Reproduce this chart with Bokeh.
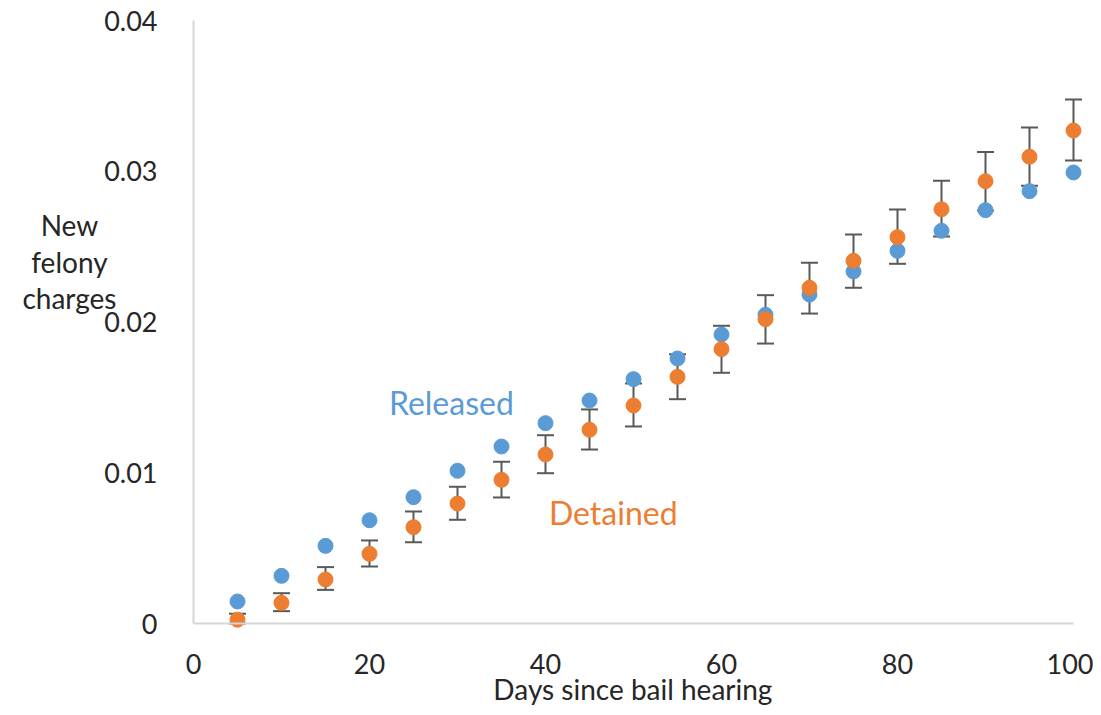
from bokeh.plotting import figure
from bokeh.models import (ColumnDataSource, Range1d, FixedTicker, CustomJSTickFormatter,
                          Whisker, TeeHead, Label)
from bokeh.embed import file_html
from bokeh.resources import INLINE

# ---- data ----
days = [5, 10, 15, 20, 25, 30, 35, 40, 45, 50, 55, 60, 65, 70, 75, 80, 85, 90, 95, 100]
released = [0.00146, 0.00316, 0.00515, 0.00685, 0.00838, 0.01013, 0.01174, 0.01329, 0.01479, 0.01621,
            0.01758, 0.01917, 0.02048, 0.02182, 0.02335, 0.02472, 0.02605, 0.02742, 0.02868, 0.02992]
detained = [0.00025, 0.00137, 0.00292, 0.00462, 0.00639, 0.00796, 0.00953, 0.01121, 0.01285, 0.01446,
            0.01636, 0.01820, 0.02019, 0.02227, 0.02406, 0.02563, 0.02748, 0.02934, 0.03096, 0.03270]
det_upper = [0.00064, 0.00201, 0.00374, 0.00551, 0.00743, 0.00907, 0.01073, 0.01249, 0.01420, 0.01592,
             0.01786, 0.01975, 0.02178, 0.02393, 0.02580, 0.02746, 0.02937, 0.03127, 0.03290, 0.03476]
det_lower = [0.00000, 0.00082, 0.00223, 0.00378, 0.00539, 0.00688, 0.00836, 0.00997, 0.01154, 0.01307,
             0.01488, 0.01663, 0.01857, 0.02056, 0.02227, 0.02386, 0.02567, 0.02740, 0.02903, 0.03071]
x_ticks = [0, 20, 40, 60, 80, 100]
y_ticks = [0, 0.01, 0.02, 0.03, 0.04]
y_title_lines = ["New", "felony", "charges"]

FONT = "Lato"
BLUE = "#5B9BD5"
ORANGE = "#ED7D31"
TXT = "#262626"

W, H = 1093, 707
# frame covers the whole canvas; axes sit at x=0 / y=0 via fixed_location
px_x = 8.8          # pixels per day
px_y = 15075.0      # pixels per unit of y
x0_px, y0_px, ytop_px = 193, 623, 20
x_range = Range1d(-x0_px / px_x, 100 + (W - (x0_px + 100 * px_x)) / px_x)
y_range = Range1d(-(H - y0_px) / px_y, 0.04 + ytop_px / px_y)

p = figure(width=W, height=H, x_range=x_range, y_range=y_range,
           output_backend="svg", toolbar_location=None, min_border=0)
p.outline_line_color = None
p.grid.visible = False
p.background_fill_color = "white"

for ax in (p.xaxis[0], p.yaxis[0]):
    ax.fixed_location = 0
    ax.axis_line_color = "#D6D6D6"
    ax.axis_line_width = 2
    ax.major_tick_line_color = None
    ax.minor_tick_line_color = None
    ax.major_label_text_font = FONT
    ax.major_label_text_font_size = "27px"
    ax.major_label_text_color = TXT

p.xaxis.bounds = (0, 100)
p.yaxis.bounds = (0, 0.04)
p.xaxis.ticker = FixedTicker(ticks=x_ticks)
p.yaxis.ticker = FixedTicker(ticks=y_ticks)
p.yaxis.formatter = CustomJSTickFormatter(code="return tick == 0 ? '0' : tick.toFixed(2);")
p.xaxis.major_label_standoff = 24
p.yaxis.major_label_standoff = 30

src = ColumnDataSource(dict(x=days, rel=released, det=detained, up=det_upper, lo=det_lower))

wh = Whisker(source=src, base="x", upper="up", lower="lo",
             line_color="#595959", line_width=2,
             upper_head=TeeHead(size=17, line_color="#595959", line_width=2),
             lower_head=TeeHead(size=17, line_color="#595959", line_width=2),
             level="underlay")
p.add_layout(wh)

p.scatter("x", "rel", source=src, size=15, color=BLUE, line_color=BLUE)
p.scatter("x", "det", source=src, size=15, color=ORANGE, line_color=ORANGE)

p.add_layout(Label(x=29.3, y=0.01466, text="Released", text_font=FONT, text_font_size="32px",
                   text_color=BLUE, text_align="center", text_baseline="middle"))
p.add_layout(Label(x=47.7, y=0.00736, text="Detained", text_font=FONT, text_font_size="32px",
                   text_color=ORANGE, text_align="center", text_baseline="middle"))

for txt, yy in zip(y_title_lines, (0.02643, 0.02398, 0.02156)):
    p.add_layout(Label(x=-14.1, y=yy, text=txt, text_font=FONT, text_font_size="28px",
                       text_color=TXT, text_align="center", text_baseline="middle"))

p.add_layout(Label(x=49.93, y=-0.00437, text="Days since bail hearing", text_font=FONT,
                   text_font_size="28px", text_color=TXT, text_align="center",
                   text_baseline="middle"))

open("out.html", "w").write(file_html(p, INLINE))
